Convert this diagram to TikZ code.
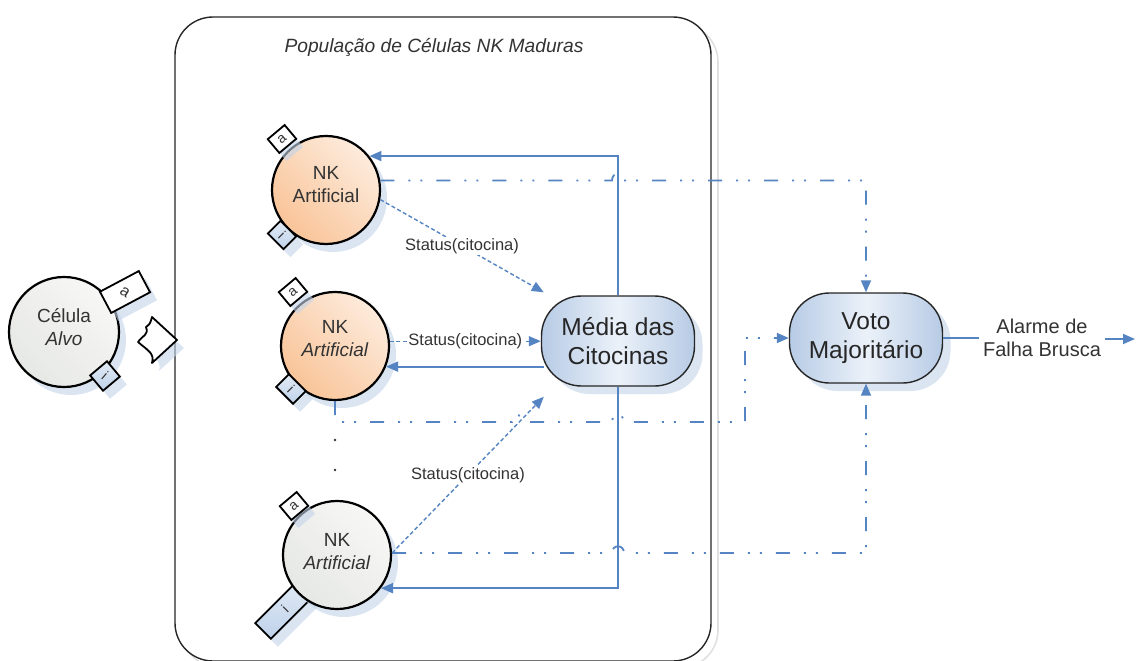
\documentclass[tikz,border=0pt]{standalone}
\usepackage{fontspec}
\setmainfont{Liberation Sans}
\usetikzlibrary{arrows.meta,calc,shadows}

\definecolor{conn}{HTML}{5584C2}
\definecolor{shadowblue}{HTML}{C3D4EA}
\definecolor{txt}{HTML}{333333}
\definecolor{orgA}{HTML}{F9C498}
\definecolor{orgB}{HTML}{FDEBDC}
\definecolor{grayA}{HTML}{E6E8E5}
\definecolor{grayB}{HTML}{F7F7F5}
\definecolor{boxA}{HTML}{B7CBE5}
\definecolor{boxB}{HTML}{EBF1F9}
\definecolor{recI}{HTML}{BFD2EA}

\tikzset{
  softshadow/.style={drop shadow={shadow xshift=7pt,shadow yshift=-8pt,fill=shadowblue,opacity=0.6}},
  cell/.style={circle, draw=black, line width=2.2pt, minimum size=108pt, inner sep=0pt, softshadow},
  celltext/.style={align=center, text=txt, font=\fontsize{19}{23}\selectfont, inner sep=0pt},
  orangecell/.style={cell, top color=orgB, bottom color=orgA, shading angle=-45},
  graycell/.style={cell, top color=grayB, bottom color=grayA, shading angle=-45},
  rec/.style={rectangle, draw=black, line width=1.8pt, inner sep=0pt, text=txt,
    font=\fontsize{14}{14}\selectfont, softshadow},
  recA/.style={rec, fill=white},
  recI/.style={rec, top color=recI!45!white, bottom color=recI},
  procbox/.style={rectangle, rounded corners=40pt, draw=black!85, line width=1.4pt,
    minimum width=153pt, minimum height=90pt, align=center, text=black!85,
    font=\fontsize{24.5}{29}\selectfont, left color=boxA, right color=boxA, middle color=boxB,
    drop shadow={shadow xshift=8pt,shadow yshift=-8pt,fill=shadowblue,opacity=0.6}},
  tip/.style={-{Triangle[length=12pt,width=10pt]}},
  fb/.style={draw=conn, line width=1.8pt, tip},
  stat/.style={draw=conn, line width=1.4pt, dash pattern=on 4pt off 2.5pt, tip},
  vote/.style={draw=conn, line width=1.8pt,
    dash pattern=on 14pt off 14pt on 2pt off 10pt on 2pt off 14pt, tip},
  statlbl/.style={fill=white, inner sep=1.5pt, text=txt, font=\fontsize{16.5}{19}\selectfont},
}

\begin{document}
\begin{tikzpicture}[x=1pt,y=-1pt]
\useasboundingbox (0,0) rectangle (1136,661);

% population frame with its faint shadow
\draw[draw=black!12, line width=1.6pt, rounded corners=38pt] (182,24) rectangle (718,668);
\draw[draw=black!85, line width=1.4pt, fill=white, rounded corners=38pt] (175,17) rectangle (711,661);
\node[text=txt, font=\fontsize{19.2}{22}\selectfont\itshape] (title) at (434,47) {População de Células NK Maduras};

% target cell
\node[graycell, minimum size=110pt] (alvo) at (64,332) {};
\node[celltext] (alvoT) at ([yshift=5pt]alvo.center) {Célula\\\textit{Alvo}};
\node[recA, rotate=28, minimum width=44pt, minimum height=24pt, font=\fontsize{16}{16}\selectfont] (alvoA) at (125,292) {\rotatebox{-60}{a}};
\node[recI, rotate=40, minimum width=22pt, minimum height=20pt] (alvoI) at (105,376) {\rotatebox{-80}{i}};

% ligand near the target cell
\def\ligandshape{(152,317) -- (177,340) -- (152,363) .. controls (155,353) and (147,350) .. (138,342)
  .. controls (143,335) and (149,335) .. (146,327) .. controls (150,324) .. (152,317) -- cycle}
\begin{scope}[shift={(7,8)}]
  \fill[shadowblue, opacity=0.6] \ligandshape;
\end{scope}
\draw[black, line width=1.8pt, fill=white, line join=round] \ligandshape;

% NK cells
\node[recI, rotate=45, minimum width=62pt, minimum height=22pt] (NK3i) at (285,609) {i};
\node[orangecell] (NK1) at (326,190) {};
\node[orangecell] (NK2) at (335,346) {};
\node[graycell] (NK3) at (337,555) {};
\node[celltext] (NK1t) at ([yshift=5pt]NK1.center) {NK\\Artificial};
\node[celltext] (NK2t) at ([yshift=7pt]NK2.center) {NK\\\textit{Artificial}};
\node[celltext] (NK3t) at ([yshift=3pt]NK3.center) {NK\\\textit{Artificial}};

\node[recA, rotate=40, minimum width=22pt, minimum height=18pt] (NK1a) at (282,139) {a};
\node[recI, rotate=-45, minimum width=22pt, minimum height=18pt] (NK1i) at (282,235) {i};
\node[recA, rotate=40, minimum width=22pt, minimum height=18pt] (NK2a) at (293,292) {a};
\node[recI, rotate=-45, minimum width=24pt, minimum height=18pt] (NK2i) at (291,389) {i};
\node[recA, rotate=40, minimum width=22pt, minimum height=18pt] (NK3a) at (294,506) {a};

% more cells between the second and the last one
\fill[black!80] (335,440) circle (1.3) (335,470) circle (1.3);

% processing blocks
\node[procbox] (Med) at (618,341) {Média das\\Citocinas};
\node[procbox] (Voto) at (866,338) {Voto\\Majoritário};

% output
\node[text=txt, align=center, font=\fontsize{20}{23}\selectfont, inner sep=4pt] (alarm) at (1042,338) {Alarme de\\Falha Brusca};
\coordinate (out) at (1135,339);
\draw[draw=conn, line width=1.8pt] (Voto.east) -- (alarm.west |- Voto.east);
\draw[fb] (alarm.east |- out) -- (out);

% feedback from the cytokine mean to each cell
\draw[fb] (Med.north) -- (Med.north |- NK1.38) -- (NK1.38);
\draw[fb] ($(NK2.-22 -| Med.west)+(3,0)$) -- (NK2.-22);
\draw[fb] (Med.south) -- (Med.south |- NK3.-37) -- (NK3.-37);

% cytokine status reported by each cell
\draw[stat] (NK1.-10) -- node[statlbl]{Status(citocina)} ($(Med.north west)+(3,-3)$);
\draw[stat] (NK2.5) -- node[statlbl]{Status(citocina)} (NK2.5 -| Med.west);
\draw[stat] (NK3.2) -- node[statlbl]{Status(citocina)} ($(Med.south west)+(3,10)$);

% decisions sent to the majority vote
\draw[vote] (NK1.10) -- ($(NK1.10 -| Med.north)+(-6,0)$)
  .. controls +(0,-9) and +(0,-9) .. ($(NK1.10 -| Med.north)+(6,0)$)
  -- (NK1.10 -| Voto.north) -- (Voto.north);
\coordinate (bend) at (745,422);
\draw[vote] (NK2.south) -- (NK2.south |- bend) -- (512,422)
  .. controls +(0,-9) and +(0,-9) .. (524,422)
  -- ($(bend -| Med.south)+(-6,0)$)
  .. controls +(0,-9) and +(0,-9) .. ($(bend -| Med.south)+(6,0)$)
  -- (bend) -- (bend |- Voto.west) -- (Voto.west);
\draw[vote] (NK3.2) -- ($(NK3.2 -| Med.south)+(-6,0)$)
  .. controls +(0,-9) and +(0,-9) .. ($(NK3.2 -| Med.south)+(6,0)$)
  -- (NK3.2 -| Voto.south) -- (Voto.south);
\end{tikzpicture}
\end{document}
